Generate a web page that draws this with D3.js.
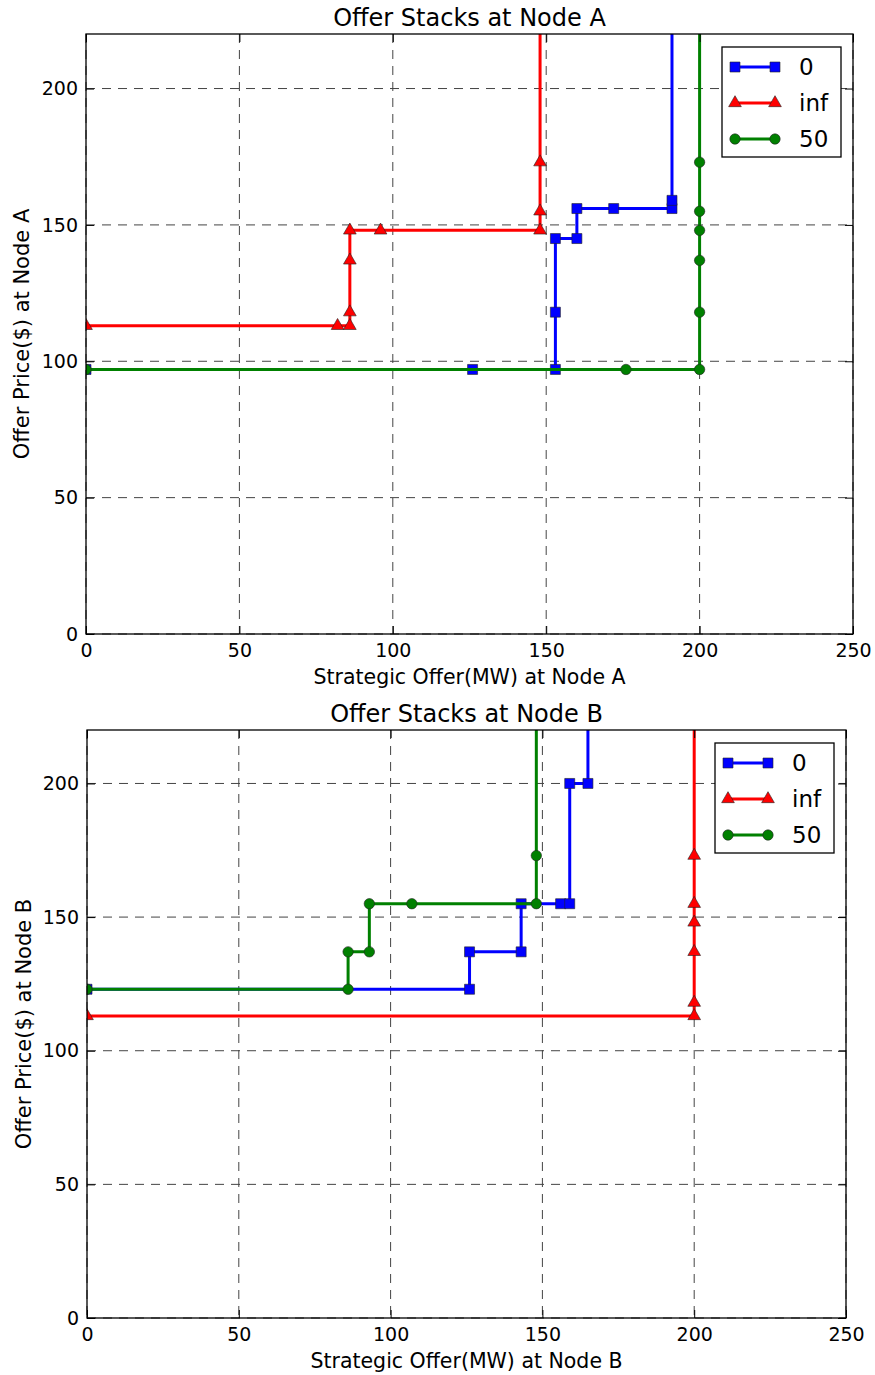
<!DOCTYPE html>
<html>
<head>
<meta charset="utf-8">
<script src="https://cdn.jsdelivr.net/npm/d3@7"></script>
<style>
  body { margin: 0; background: #fff; }
  svg text { font-family: "DejaVu Sans", sans-serif; fill: #000; }
</style>
</head>
<body>
<div id="chart"></div>
<script>
// Offer stacks, two nodes, three series each ('0', 'inf', '50')
const seriesNames = ['0', 'inf', '50'];
const xTicks = [0, 50, 100, 150, 200, 250];
const yTicks = [0, 50, 100, 150, 200];
const OFF = 300; // last point of each stack runs off the top of the plot

// Node A
const aBlueX  = [0, 126, 153, 153, 153, 160, 160, 172, 191, 191, 191];
const aBlueY  = [97, 97, 97, 118, 145, 145, 156, 156, 156, 159, OFF];
const aRedX   = [0, 82, 86, 86, 86, 86, 96, 148, 148, 148, 148];
const aRedY   = [113, 113, 113, 118, 137, 148, 148, 148, 155, 173, OFF];
const aGreenX = [0, 176, 200, 200, 200, 200, 200, 200, 200];
const aGreenY = [97, 97, 97, 118, 137, 148, 155, 173, OFF];

// Node B
const bBlueX  = [0, 126, 126, 143, 143, 156, 159, 159, 165, 165];
const bBlueY  = [123, 123, 137, 137, 155, 155, 155, 200, 200, OFF];
const bRedX   = [0, 200, 200, 200, 200, 200, 200, 200];
const bRedY   = [113, 113, 118, 137, 148, 155, 173, OFF];
const bGreenX = [0, 86, 86, 93, 93, 107, 148, 148, 148];
const bGreenY = [123, 123, 137, 137, 155, 155, 155, 173, OFF];

const styles = [
  { color: '#0000ff', symbol: d3.symbolSquare, size: 100 },
  { color: '#ff0000', symbol: d3.symbolTriangle, size: 70 },
  { color: '#008000', symbol: d3.symbolCircle, size: 85 }
];

const W = 875, H = 1375;
const svg = d3.select('#chart').append('svg').attr('width', W).attr('height', H);

function zip(xs, ys) { return xs.map((x, i) => [x, ys[i]]); }

function drawPanel(cfg, id) {
  const { left, top, width, height } = cfg;
  const x = d3.scaleLinear().domain([0, 250]).range([0, width]);
  const y = d3.scaleLinear().domain([0, 220]).range([height, 0]);

  const g = svg.append('g').attr('transform', `translate(${left},${top})`);

  g.append('clipPath').attr('id', 'clip' + id)
    .append('rect').attr('width', width).attr('height', height);

  // grid
  g.append('g').selectAll('line').data(xTicks).join('line')
    .attr('x1', d => x(d)).attr('x2', d => x(d)).attr('y1', 0).attr('y2', height)
    .attr('stroke', '#444').attr('stroke-width', 1).attr('stroke-dasharray', '9,7');
  g.append('g').selectAll('line').data(yTicks).join('line')
    .attr('y1', d => y(d)).attr('y2', d => y(d)).attr('x1', 0).attr('x2', width)
    .attr('stroke', '#444').attr('stroke-width', 1).attr('stroke-dasharray', '9,7');

  // series
  const plot = g.append('g').attr('clip-path', `url(#clip${id})`);
  const line = d3.line().x(d => x(d[0])).y(d => y(d[1]));
  cfg.series.forEach((pts, i) => {
    const s = styles[i];
    plot.append('path').datum(pts)
      .attr('d', line).attr('fill', 'none')
      .attr('stroke', s.color).attr('stroke-width', 3).attr('stroke-linejoin', 'miter');
    plot.append('g').selectAll('path').data(pts).join('path')
      .attr('transform', d => `translate(${x(d[0])},${y(d[1])})`)
      .attr('d', d3.symbol().type(s.symbol).size(s.size))
      .attr('fill', s.color).attr('stroke', '#222').attr('stroke-width', 0.6);
  });

  // axes with inward ticks
  const fmt = d3.format('d');
  const ax = g.append('g').attr('transform', `translate(0,${height})`)
    .call(d3.axisBottom(x).tickValues(xTicks).tickFormat(fmt).tickSize(-8).tickPadding(8));
  const ay = g.append('g')
    .call(d3.axisLeft(y).tickValues(yTicks).tickFormat(fmt).tickSize(-8).tickPadding(8));
  const at = g.append('g')
    .call(d3.axisTop(x).tickValues(xTicks).tickFormat('').tickSize(-8));
  const ar = g.append('g').attr('transform', `translate(${width},0)`)
    .call(d3.axisRight(y).tickValues(yTicks).tickFormat('').tickSize(-8));
  [ax, ay, at, ar].forEach(a => {
    a.select('.domain').remove();
    a.selectAll('line').attr('stroke', '#000').attr('stroke-width', 1);
    a.selectAll('text').style('font-size', '19px').style('font-family', '"DejaVu Sans", sans-serif');
  });
  ax.selectAll('text').attr('dy', '0.8em');

  g.append('rect').attr('width', width).attr('height', height)
    .attr('fill', 'none').attr('stroke', '#000').attr('stroke-width', 1.3);

  // titles
  g.append('text').attr('x', width / 2).attr('y', -8)
    .attr('text-anchor', 'middle').style('font-size', '24px').text(cfg.title);
  g.append('text').attr('x', width / 2).attr('y', height + 50)
    .attr('text-anchor', 'middle').style('font-size', '20.5px').text(cfg.xLabel);
  g.append('text')
    .attr('transform', `translate(${cfg.yLabelX - left},${height / 2}) rotate(-90)`)
    .attr('text-anchor', 'middle').attr('dy', '0.35em')
    .style('font-size', '21px').text(cfg.yLabel);

  // legend
  const lw = 119, lh = 110;
  const lg = g.append('g').attr('transform', `translate(${width - 12 - lw},13)`);
  lg.append('rect').attr('width', lw).attr('height', lh)
    .attr('fill', '#fff').attr('stroke', '#000').attr('stroke-width', 1.3);
  seriesNames.forEach((name, i) => {
    const s = styles[i];
    const ly = 20 + i * 36;
    const row = lg.append('g').attr('transform', `translate(0,${ly})`);
    row.append('line').attr('x1', 13).attr('x2', 53)
      .attr('stroke', s.color).attr('stroke-width', 3);
    [13, 53].forEach(px => row.append('path')
      .attr('transform', `translate(${px},0)`)
      .attr('d', d3.symbol().type(s.symbol).size(s.size))
      .attr('fill', s.color).attr('stroke', '#222').attr('stroke-width', 0.6));
    row.append('text').attr('x', 77).attr('dy', '0.35em')
      .style('font-size', '23px').text(name);
  });
}

drawPanel({
  left: 86, top: 34, width: 767, height: 600,
  title: 'Offer Stacks at Node A',
  xLabel: 'Strategic Offer(MW) at Node A',
  yLabel: 'Offer Price($) at Node A', yLabelX: 22,
  series: [zip(aBlueX, aBlueY), zip(aRedX, aRedY), zip(aGreenX, aGreenY)]
}, 'A');

drawPanel({
  left: 87, top: 730, width: 759, height: 588,
  title: 'Offer Stacks at Node B',
  xLabel: 'Strategic Offer(MW) at Node B',
  yLabel: 'Offer Price($) at Node B', yLabelX: 24,
  series: [zip(bBlueX, bBlueY), zip(bRedX, bRedY), zip(bGreenX, bGreenY)]
}, 'B');
</script>
</body>
</html>
